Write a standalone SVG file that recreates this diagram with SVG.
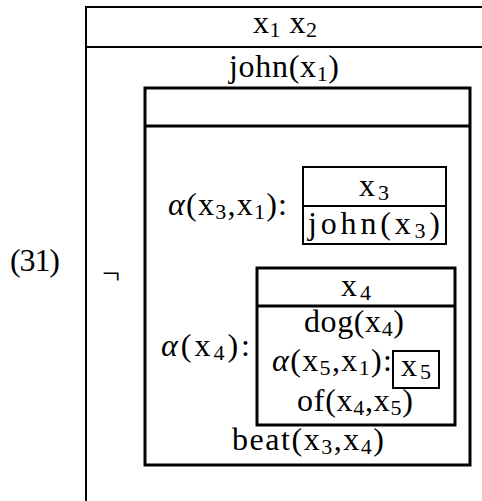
<svg xmlns="http://www.w3.org/2000/svg" width="482" height="501" viewBox="0 0 482 501">
<style>
text{font-family:"Liberation Serif","Times New Roman","DejaVu Serif",serif;font-size:32px;fill:#000}
.s{font-size:22px}
.i{font-style:italic}
.b2{fill:none;stroke:#000;stroke-width:2}
.b3{fill:none;stroke:#000;stroke-width:3}
</style>
<rect width="482" height="501" fill="#fff"/>
<g id="label31"><text x="10" y="271" textLength="50" lengthAdjust="spacing">(31)</text></g>
<g id="outer">
<path class="b2" d="M482,7 H86 V501 M86,47 H482"/>
<text x="253" y="33" textLength="64" lengthAdjust="spacing">x<tspan class="s" dy="4">1</tspan><tspan dy="-4"> x</tspan><tspan class="s" dy="4">2</tspan></text>
<text x="229" y="77" textLength="110" lengthAdjust="spacing">john(x<tspan class="s" dy="4">1</tspan><tspan dy="-4">)</tspan></text>
</g>
<g id="neg">
<text x="102" y="284">¬</text>
<rect class="b3" x="145" y="88" width="325" height="377"/>
<line class="b3" x1="145" y1="126" x2="470" y2="126"/>
<text x="232" y="450" textLength="152" lengthAdjust="spacing">beat(x<tspan class="s" dy="4">3</tspan><tspan dy="-4">,x</tspan><tspan class="s" dy="4">4</tspan><tspan dy="-4">)</tspan></text>
</g>
<g id="alpha1">
<text x="168" y="215" textLength="119" lengthAdjust="spacing"><tspan class="i">α</tspan>(x<tspan class="s" dy="4">3</tspan><tspan dy="-4">,x</tspan><tspan class="s" dy="4">1</tspan><tspan dy="-4">):</tspan></text>
<rect class="b2" x="303" y="167" width="143" height="77"/>
<line class="b2" x1="303" y1="206" x2="446" y2="206"/>
<text x="359" y="196" textLength="30" lengthAdjust="spacing">x<tspan class="s" dy="4">3</tspan></text>
<text x="308" y="234" textLength="132" lengthAdjust="spacing">john(x<tspan class="s" dy="4">3</tspan><tspan dy="-4">)</tspan></text>
</g>
<g id="alpha2">
<text x="161" y="356" textLength="89" lengthAdjust="spacing"><tspan class="i">α</tspan>(x<tspan class="s" dy="4">4</tspan><tspan dy="-4">):</tspan></text>
<rect class="b3" x="257" y="268" width="198" height="157"/>
<line class="b3" x1="257" y1="306" x2="455" y2="306"/>
<text x="341" y="296" textLength="30" lengthAdjust="spacing">x<tspan class="s" dy="4">4</tspan></text>
<text x="304" y="332" textLength="100" lengthAdjust="spacing">dog(x<tspan class="s" dy="4">4</tspan><tspan dy="-4">)</tspan></text>
<text x="272" y="371" textLength="120" lengthAdjust="spacing"><tspan class="i">α</tspan>(x<tspan class="s" dy="4">5</tspan><tspan dy="-4">,x</tspan><tspan class="s" dy="4">1</tspan><tspan dy="-4">):</tspan></text>
<text x="297" y="411" textLength="116" lengthAdjust="spacing">of(x<tspan class="s" dy="4">4</tspan><tspan dy="-4">,x</tspan><tspan class="s" dy="4">5</tspan><tspan dy="-4">)</tspan></text>
</g>
<g id="alpha3">
<rect class="b2" x="393" y="351" width="46" height="37"/>
<text x="401" y="376" textLength="30" lengthAdjust="spacing">x<tspan class="s" dy="3">5</tspan></text>
</g>
<g id="connectors"></g>
</svg>
